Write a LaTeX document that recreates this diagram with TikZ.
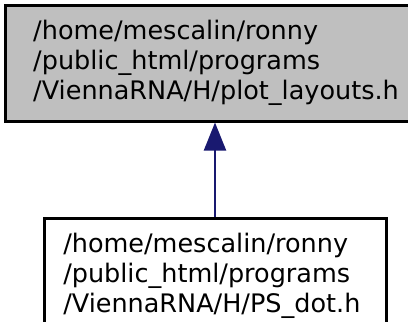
\documentclass[tikz,border=0pt]{standalone}
\usepackage{fontspec}
\setmainfont{DejaVu Sans}
\usepackage{xcolor}
\usetikzlibrary{arrows.meta,positioning}
\definecolor{edgeblue}{RGB}{25,25,112}
\definecolor{nodegray}{RGB}{191,191,191}

\begin{document}
\begin{tikzpicture}[x=1pt, y=1pt, >={Triangle[length=28pt,width=22pt]},
  every node/.style={font=\fontsize{25.5}{30}\selectfont, align=left},
  filebox/.style={draw=black, line width=2.5pt, rectangle, anchor=north west, inner ysep=0pt}]
\useasboundingbox (0,0) rectangle (408,-322);
\node (plot) [filebox, fill=nodegray, minimum width=430pt, minimum height=116pt, inner xsep=28pt, text width=374pt] at (4,-4) {/home/mescalin/ronny\\/public\_html/programs\\/ViennaRNA/H/plot\_layouts.h};
\node (psdot) [filebox, fill=white, minimum width=342pt, minimum height=116pt, inner xsep=19pt, text width=304pt] at (43,-217) {/home/mescalin/ronny\\/public\_html/programs\\/ViennaRNA/H/PS\_dot.h};
\draw[->, edgeblue, line width=2pt] (psdot.north -| 215,0) -- (plot.south -| 215,0);
\end{tikzpicture}
\end{document}
